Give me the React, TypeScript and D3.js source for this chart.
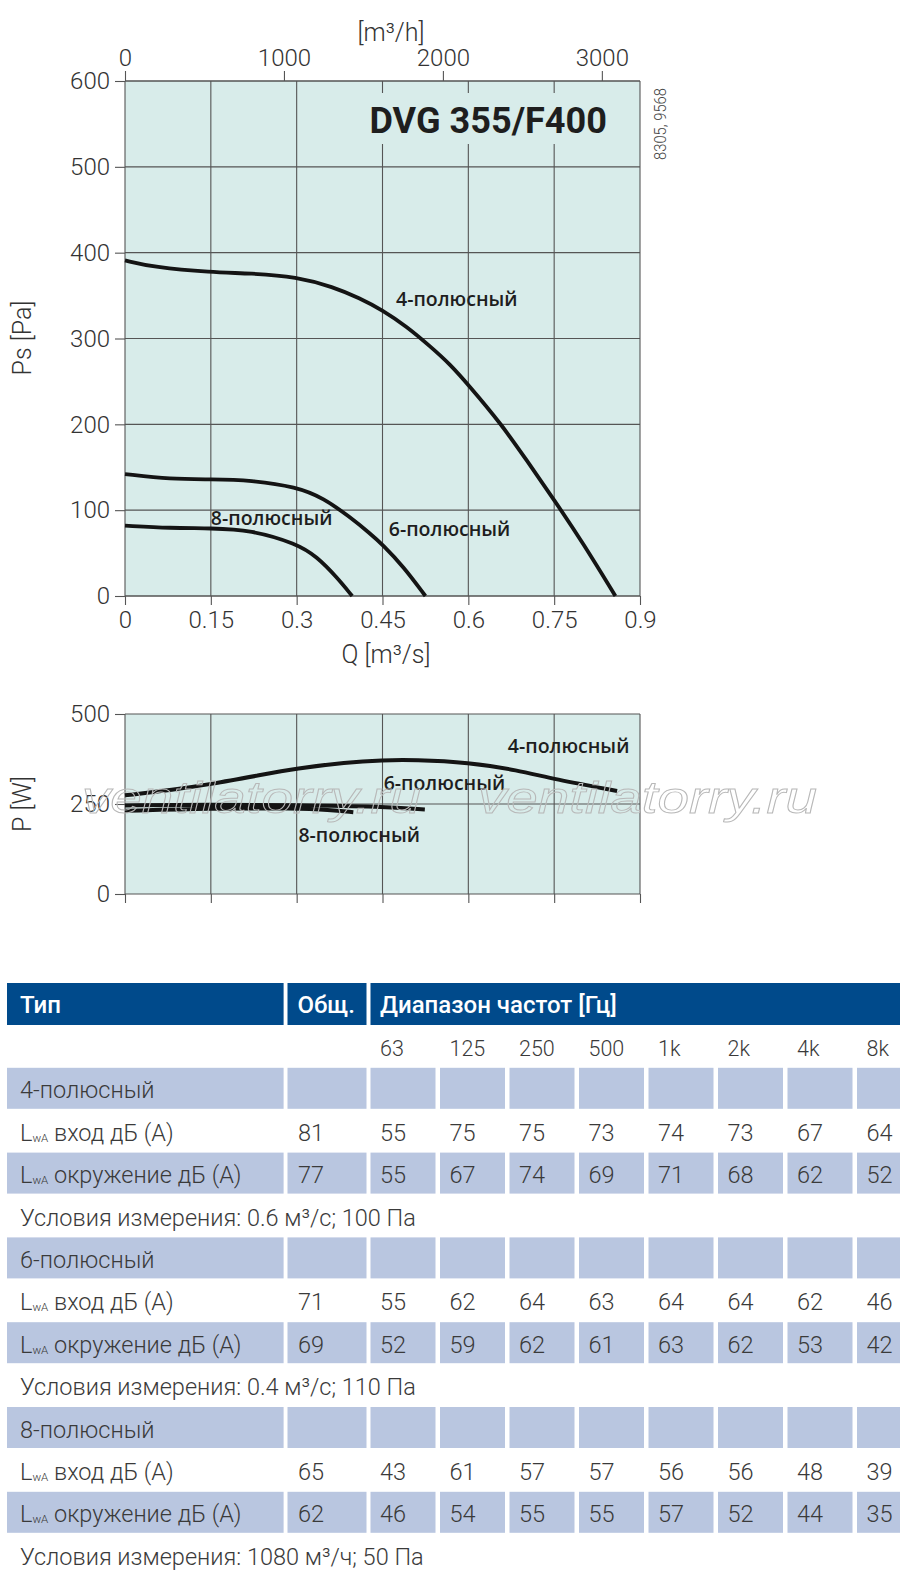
import { useEffect, useRef } from "react";
import * as d3 from "d3";

type Pt = [number, number];

// static pressure curves: [Q m3/s, Ps Pa]
const ps4Pole: Pt[] = [
  [0, 391], [0.05, 383], [0.15, 377], [0.22, 376], [0.3, 372], [0.364, 360],
  [0.41, 347], [0.45, 333], [0.492, 314], [0.533, 291], [0.568, 270], [0.6, 246],
  [0.658, 200], [0.702, 158], [0.75, 112], [0.801, 61], [0.857, 0],
];
const ps6Pole: Pt[] = [
  [0, 142], [0.08, 136], [0.15, 136], [0.22, 135], [0.3, 127], [0.347, 114],
  [0.393, 92], [0.428, 73], [0.45, 60], [0.487, 34], [0.525, 0],
];
const ps8Pole: Pt[] = [
  [0, 82], [0.08, 79], [0.15, 79], [0.22, 77], [0.3, 61], [0.335, 46],
  [0.37, 22], [0.397, 0],
];

// power curves: [Q m3/s, P W]
const p4Pole: Pt[] = [
  [0, 274], [0.085, 290], [0.15, 305], [0.235, 330], [0.3, 349], [0.386, 366],
  [0.45, 372], [0.506, 373], [0.6, 366], [0.686, 344], [0.75, 319], [0.86, 286],
];
const p6Pole: Pt[] = [
  [0, 246], [0.15, 249], [0.3, 247], [0.45, 243], [0.524, 235],
];
const p8Pole: Pt[] = [
  [0, 231], [0.15, 238], [0.3, 238], [0.356, 234], [0.399, 227],
];

const qTicks = [0, 0.15, 0.3, 0.45, 0.6, 0.75, 0.9];
const psTicks = [0, 100, 200, 300, 400, 500, 600];
const pTicks = [0, 250, 500];
const flowTicks = [0, 1000, 2000, 3000];

const poleNames = ["4-полюсный", "6-полюсный", "8-полюсный"];
const freqBands = ["63", "125", "250", "500", "1k", "2k", "4k", "8k"];
const inletTotal = [81, 71, 65];
const inletBands = [
  [55, 75, 75, 73, 74, 73, 67, 64],
  [55, 62, 64, 63, 64, 64, 62, 46],
  [43, 61, 57, 57, 56, 56, 48, 39],
];
const surroundTotal = [77, 69, 62];
const surroundBands = [
  [55, 67, 74, 69, 71, 68, 62, 52],
  [52, 59, 62, 61, 63, 62, 53, 42],
  [46, 54, 55, 55, 57, 52, 44, 35],
];
const conditions = [
  "Условия измерения: 0.6 м³/с; 100 Па",
  "Условия измерения: 0.4 м³/с; 110 Па",
  "Условия измерения: 1080 м³/ч; 50 Па",
];

const LIGHT = "Roboto, 'Liberation Sans', sans-serif";
const SEMI = "'Open Sans', 'Noto Sans', sans-serif";
const PLOT_BG = "#d8ecea";
const GRID = "#555";
const TEXT = "#3a3a3a";
const HEAD_BG = "#004a8b";
const CELL_BG = "#b9c6e0";

type Row =
  | { kind: "head" }
  | { kind: "freq" }
  | { kind: "group"; i: number }
  | { kind: "inlet"; i: number }
  | { kind: "surround"; i: number }
  | { kind: "cond"; i: number };

export default function App() {
  const svgRef = useRef<SVGSVGElement>(null);

  useEffect(() => {
    if (!svgRef.current) return;
    const svg = d3.select(svgRef.current);
    svg.selectAll("*").remove();

    const x = d3.scaleLinear().domain([0, 0.9]).range([125, 640]);
    const flow = d3.scaleLinear().domain([0, 0.9 * 3600]).range(x.range());
    const yPs = d3.scaleLinear().domain([0, 600]).range([596, 81]);
    const yP = d3.scaleLinear().domain([0, 500]).range([894, 714]);

    const panel = (y: d3.ScaleLinear<number, number>, hTicks: number[]) => {
      const g = svg.append("g");
      const [y0, y1] = y.range();
      g.append("rect")
        .attr("x", x(0))
        .attr("y", y1)
        .attr("width", x(0.9) - x(0))
        .attr("height", y0 - y1)
        .attr("fill", PLOT_BG);
      g.selectAll("line.v")
        .data(qTicks)
        .join("line")
        .attr("x1", (d) => x(d))
        .attr("x2", (d) => x(d))
        .attr("y1", y1)
        .attr("y2", y0)
        .attr("stroke", GRID)
        .attr("stroke-width", 1.1);
      g.selectAll("line.h")
        .data([...hTicks, ...y.domain()])
        .join("line")
        .attr("x1", x(0))
        .attr("x2", x(0.9))
        .attr("y1", (d) => y(d))
        .attr("y2", (d) => y(d))
        .attr("stroke", GRID)
        .attr("stroke-width", 1.1);
      return g;
    };

    const styleAxis = (g: d3.Selection<SVGGElement, unknown, null, undefined>) => {
      g.select(".domain").remove();
      g.attr("font-family", LIGHT)
        .attr("font-weight", 300)
        .attr("font-size", 24)
        .attr("color", "#333");
      g.selectAll(".tick line").attr("stroke", GRID).attr("stroke-width", 1.1);
    };

    // B-spline: smooth through the hand-read points
    const smooth = d3.curveBasis;

    // ---- Ps chart
    panel(yPs, psTicks);

    // title box masks the grid
    svg.append("rect")
      .attr("x", 360)
      .attr("y", 93)
      .attr("width", 258)
      .attr("height", 51)
      .attr("fill", PLOT_BG);
    svg.append("text")
      .attr("x", 369.5)
      .attr("y", 132.7)
      .attr("font-family", LIGHT)
      .attr("font-weight", 700)
      .attr("font-size", 37)
      .attr("fill", "#1e1e1e")
      .attr("textLength", 237.5)
      .attr("lengthAdjust", "spacingAndGlyphs")
      .text("DVG 355/F400");

    svg.append("g")
      .attr("transform", `translate(${x(0)},0)`)
      .call(d3.axisLeft(yPs).tickValues(psTicks).tickSize(10).tickPadding(5))
      .call(styleAxis);

    svg.append("g")
      .attr("transform", `translate(0,${yPs(0)})`)
      .call(
        d3.axisBottom(x).tickValues(qTicks).tickFormat((d) => String(d)).tickSize(9).tickPadding(6)
      )
      .call(styleAxis);

    svg.append("g")
      .attr("transform", `translate(0,${yPs(600)})`)
      .call(d3.axisTop(flow).tickValues(flowTicks).tickFormat((d) => String(d)).tickSize(10).tickPadding(5))
      .call(styleAxis);

    const psLine = d3
      .line<Pt>()
      .x((d) => x(d[0]))
      .y((d) => yPs(d[1]))
      .curve(smooth);

    svg.selectAll("path.ps")
      .data([ps4Pole, ps6Pole, ps8Pole])
      .join("path")
      .attr("d", (d) => psLine(d))
      .attr("fill", "none")
      .attr("stroke", "#141414")
      .attr("stroke-width", 3.8);

    const curveLabel = (text: string, px: number, py: number) =>
      svg.append("text")
        .attr("x", px)
        .attr("y", py)
        .attr("font-family", SEMI)
        .attr("font-weight", 600)
        .attr("font-size", 19.5)
        .attr("fill", "#1e1e1e")
        .text(text);

    curveLabel(poleNames[0], x(0.4736), yPs(338));
    curveLabel(poleNames[1], x(0.461), yPs(70));
    curveLabel(poleNames[2], x(0.15), yPs(83));

    // axis titles
    const axisTitle = (t: string, transform: string, size = 25) =>
      svg.append("text")
        .attr("transform", transform)
        .attr("text-anchor", "middle")
        .attr("font-family", LIGHT)
        .attr("font-weight", 300)
        .attr("font-size", size)
        .attr("fill", "#333")
        .text(t);

    axisTitle("[m³/h]", "translate(391,40.5)");
    axisTitle("Q [m³/s]", "translate(386,663)");
    axisTitle("Ps [Pa]", "translate(31,338) rotate(-90)");
    axisTitle("P [W]", "translate(31,804) rotate(-90)");
    axisTitle("8305, 9568", "translate(666,124) rotate(-90)", 17)
      .attr("fill", "#444")
      .attr("textLength", 72)
      .attr("lengthAdjust", "spacingAndGlyphs");

    // ---- P chart
    panel(yP, [250]);

    svg.append("g")
      .attr("transform", `translate(${x(0)},0)`)
      .call(d3.axisLeft(yP).tickValues(pTicks).tickSize(10).tickPadding(5))
      .call(styleAxis);

    svg.append("g")
      .attr("transform", `translate(0,${yP(0)})`)
      .call(d3.axisBottom(x).tickValues(qTicks).tickFormat(() => "").tickSize(9))
      .call(styleAxis);

    const pLine = d3
      .line<Pt>()
      .x((d) => x(d[0]))
      .y((d) => yP(d[1]))
      .curve(smooth);

    svg.selectAll("path.p")
      .data([p4Pole, p6Pole, p8Pole])
      .join("path")
      .attr("d", (d) => pLine(d))
      .attr("fill", "none")
      .attr("stroke", "#141414")
      .attr("stroke-width", 4);

    curveLabel(poleNames[0], x(0.669), yP(392));
    curveLabel(poleNames[1], x(0.452), yP(289));
    curveLabel(poleNames[2], x(0.303), yP(145));

    // watermark
    [82, 478].forEach((wx) => {
      svg.append("text")
        .attr("x", wx)
        .attr("y", 813)
        .attr("font-family", "'Liberation Sans', sans-serif")
        .attr("font-style", "italic")
        .attr("font-size", 45)
        .attr("fill", "none")
        .attr("stroke", "#b8b8b8")
        .attr("stroke-width", 0.9)
        .attr("textLength", 339)
        .attr("lengthAdjust", "spacingAndGlyphs")
        .text("ventilatorry.ru");
    });

    // ---- table
    const rows: Row[] = [{ kind: "head" }, { kind: "freq" }];
    poleNames.forEach((_, i) => {
      rows.push({ kind: "group", i }, { kind: "inlet", i }, { kind: "surround", i }, { kind: "cond", i });
    });

    const rowH = 42.4;
    const tableTop = 983;
    const rowY = d3
      .scaleBand<number>()
      .domain(d3.range(rows.length))
      .range([tableTop, tableTop + rows.length * rowH]);

    const bandX = d3
      .scaleBand<string>()
      .domain(freqBands)
      .range([370.5, 370.5 + freqBands.length * 69.5 - 4.5])
      .paddingInner(4.5 / 69.5);

    const labelCol = { x: 7, w: 276.6 };
    const totalCol = { x: 287.5, w: 79 };

    const tg = svg.append("g");

    rows.forEach((row, ri) => {
      const top = rowY(ri)!;
      const base = top + 30.5;
      const shaded = row.kind === "group" || row.kind === "surround";

      if (row.kind === "head") {
        [
          [labelCol.x, labelCol.w],
          [totalCol.x, totalCol.w],
          [bandX(freqBands[0])!, 900 - bandX(freqBands[0])! + 20],
        ].forEach(([cx, cw]) => {
          tg.append("rect").attr("x", cx).attr("y", top).attr("width", cw).attr("height", 42).attr("fill", HEAD_BG);
        });
        const head = (t: string, hx: number) =>
          tg.append("text")
            .attr("x", hx)
            .attr("y", top + 30)
            .attr("font-family", LIGHT)
            .attr("font-weight", 500)
            .attr("font-size", 24)
            .attr("fill", "#fff")
            .text(t);
        head("Тип", 20);
        head("Общ.", 297.5);
        head("Диапазон частот [Гц]", 380);
        return;
      }

      if (shaded) {
        tg.append("rect").attr("x", labelCol.x).attr("y", top).attr("width", labelCol.w).attr("height", 41).attr("fill", CELL_BG);
        tg.append("rect").attr("x", totalCol.x).attr("y", top).attr("width", totalCol.w).attr("height", 41).attr("fill", CELL_BG);
        tg.selectAll(null)
          .data(freqBands)
          .join("rect")
          .attr("x", (b) => bandX(b)!)
          .attr("y", top)
          .attr("width", bandX.bandwidth())
          .attr("height", 41)
          .attr("fill", CELL_BG);
      }

      const cellText = (t: string | number, tx: number, size = 23.5) =>
        tg.append("text")
          .attr("x", tx)
          .attr("y", base)
          .attr("font-family", LIGHT)
          .attr("font-weight", 300)
          .attr("font-size", size)
          .attr("fill", TEXT)
          .text(String(t));

      if (row.kind === "freq") {
        freqBands.forEach((b) => cellText(b, bandX(b)! + 9.5, 21.5));
      } else if (row.kind === "group") {
        cellText(poleNames[row.i], 20);
      } else if (row.kind === "cond") {
        cellText(conditions[row.i], 20);
      } else {
        const inlet = row.kind === "inlet";
        const lbl = tg.append("text")
          .attr("x", 20)
          .attr("y", base)
          .attr("font-family", LIGHT)
          .attr("font-weight", 300)
          .attr("font-size", 23.5)
          .attr("fill", TEXT);
        lbl.append("tspan").text("L");
        lbl.append("tspan").attr("font-size", 11.5).attr("dy", 1).text("wA");
        lbl.append("tspan").attr("dy", -1).text(inlet ? " вход дБ (A)" : " окружение дБ (A)");
        cellText(inlet ? inletTotal[row.i] : surroundTotal[row.i], 298);
        const vals = inlet ? inletBands[row.i] : surroundBands[row.i];
        freqBands.forEach((b, bi) => cellText(vals[bi], bandX(b)! + 9.5));
      }
    });
  }, []);

  return (
    <svg
      ref={svgRef}
      width={900}
      height={1593}
      style={{ position: "absolute", left: 0, top: 0, background: "#fff" }}
    />
  );
}
